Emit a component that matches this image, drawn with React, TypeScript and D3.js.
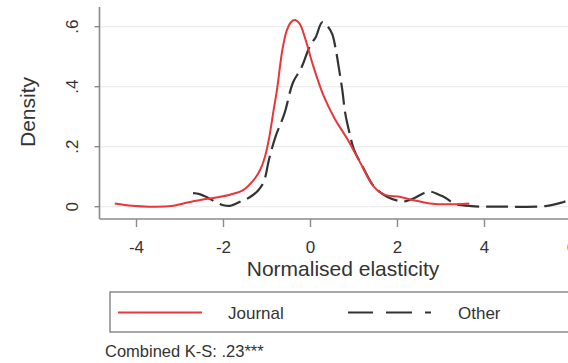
import React from "react";
import * as d3 from "d3";

const journalX = [-4.5, -4.1, -3.7, -3.2, -2.8, -2.5, -2.2, -1.85, -1.55, -1.3, -1.15, -1.05, -0.95, -0.85, -0.77, -0.65, -0.55, -0.45, -0.35, -0.25, -0.12, 0.05, 0.3, 0.55, 0.85, 1.15, 1.45, 1.7, 2.05, 2.35, 2.75, 3.15, 3.65];
const journalY = [0.011, 0.003, 0.0, 0.002, 0.015, 0.023, 0.03, 0.04, 0.055, 0.09, 0.125, 0.165, 0.23, 0.32, 0.39, 0.52, 0.585, 0.615, 0.622, 0.61, 0.56, 0.475, 0.37, 0.295, 0.225, 0.145, 0.068, 0.04, 0.033, 0.022, 0.011, 0.008, 0.011];

const otherX = [-2.7, -2.55, -2.4, -2.2, -2.0, -1.85, -1.6, -1.38, -1.2, -1.07, -0.95, -0.8, -0.6, -0.4, -0.22, 0.0, 0.12, 0.27, 0.4, 0.5, 0.58, 0.66, 0.73, 0.8, 0.88, 1.0, 1.2, 1.46, 1.76, 2.0, 2.14, 2.38, 2.6, 2.76, 2.95, 3.1, 3.3, 3.7, 4.5, 5.4, 5.8, 6.1];
const otherY = [0.045, 0.042, 0.033, 0.017, 0.005, 0.003, 0.018, 0.033, 0.055, 0.085, 0.16, 0.235, 0.31, 0.415, 0.46, 0.54, 0.565, 0.615, 0.6, 0.575, 0.525, 0.455, 0.39, 0.31, 0.256, 0.19, 0.133, 0.067, 0.033, 0.02, 0.017, 0.028, 0.045, 0.05, 0.04, 0.03, 0.011, 0.002, 0.0, 0.002, 0.015, 0.03];

const xTicks = [-4, -2, 0, 2, 4, 6];
const yTicks = [0, 0.2, 0.4, 0.6];
const yTickLabels = ["0", ".2", ".4", ".6"];
const legendLabels = ["Journal", "Other"];
const xTitle = "Normalised elasticity";
const yTitle = "Density";
const note = "Combined K-S: .23***";

const W = 568;
const H = 363;
const FONT = "'Liberation Sans', Arial, sans-serif";

export default function App() {
  const x = d3.scaleLinear().domain([-4, 6]).range([136.5, 571.5]);
  const y = d3.scaleLinear().domain([0, 0.6]).range([206.7, 26.7]);
  const axisX = 99.5;
  const axisY = 219;

  const line = d3
    .line<[number, number]>()
    .x((d) => x(d[0]))
    .y((d) => y(d[1]))
    .curve(d3.curveCatmullRom.alpha(0.5));

  const jData = journalX.map((v, i) => [v, journalY[i]] as [number, number]);
  const oData = otherX.map((v, i) => [v, otherY[i]] as [number, number]);

  return (
    <svg
      width={W}
      height={H}
      style={{ position: "absolute", left: 0, top: 0, background: "#fff" }}
      fontFamily={FONT}
    >
      <rect x={0} y={0} width={W} height={H} fill="#fff" />
      {/* gridlines */}
      {yTicks.map((t) => (
        <line key={"g" + t} x1={axisX} x2={W} y1={y(t)} y2={y(t)} stroke="#ececec" strokeWidth={1.2} />
      ))}
      {/* axes */}
      <line x1={axisX} x2={axisX} y1={7} y2={axisY} stroke="#8a8a8a" strokeWidth={1.6} />
      <line x1={axisX} x2={W} y1={axisY} y2={axisY} stroke="#8a8a8a" strokeWidth={1.6} />
      {yTicks.map((t, i) => (
        <g key={"yt" + t}>
          <line x1={axisX - 5} x2={axisX} y1={y(t)} y2={y(t)} stroke="#8a8a8a" strokeWidth={1.4} />
          <text
            transform={`translate(78,${y(t)}) rotate(-90)`}
            textAnchor="middle"
            fontSize={17}
            fill="#333"
          >
            {yTickLabels[i]}
          </text>
        </g>
      ))}
      {xTicks.map((t) => (
        <g key={"xt" + t}>
          <line x1={x(t)} x2={x(t)} y1={axisY} y2={axisY + 8} stroke="#8a8a8a" strokeWidth={1.4} />
          <text x={x(t)} y={253} textAnchor="middle" fontSize={17} fill="#333">
            {t < 0 ? "-" + Math.abs(t) : String(t)}
          </text>
        </g>
      ))}
      <text x={343} y={276} textAnchor="middle" fontSize={21} fill="#333">
        {xTitle}
      </text>
      <text transform="translate(35,112) rotate(-90)" textAnchor="middle" fontSize={21} fill="#333">
        {yTitle}
      </text>
      {/* curves */}
      <path d={line(oData) || ""} fill="none" stroke="#333" strokeWidth={2.2} strokeDasharray="22,7" />
      <path d={line(jData) || ""} fill="none" stroke="#e8363a" strokeWidth={2} />
      {/* legend */}
      <rect x={110} y={292} width={470} height={40} fill="#fff" stroke="#8a8a8a" strokeWidth={1.5} />
      <line x1={118} x2={202} y1={312.5} y2={312.5} stroke="#e8363a" strokeWidth={2.2} />
      <text x={228} y={318.5} fontSize={17} fill="#333">
        {legendLabels[0]}
      </text>
      <line x1={348} x2={433} y1={312.5} y2={312.5} stroke="#333" strokeWidth={2.2} strokeDasharray="25,13,26,13,6,40" />
      <text x={458} y={318.5} fontSize={17} fill="#333">
        {legendLabels[1]}
      </text>
      <text x={105} y={357} fontSize={16.5} fill="#333">
        {note}
      </text>
    </svg>
  );
}
